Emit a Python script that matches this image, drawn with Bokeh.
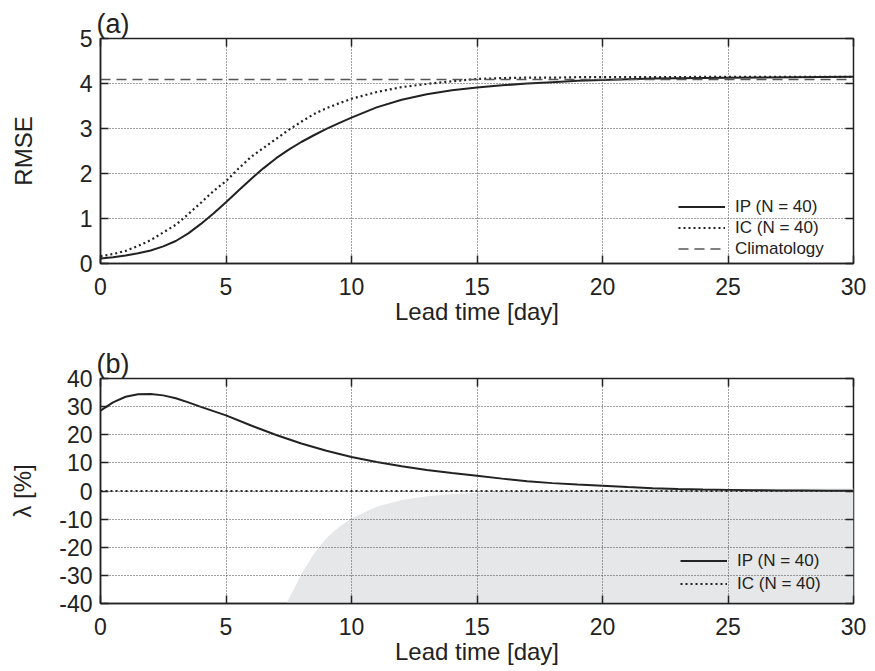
from bokeh.plotting import figure
from bokeh.layouts import column
from bokeh.models import LinearAxis, Range1d, Legend, LegendItem, FixedTicker
from bokeh.embed import file_html
from bokeh.resources import INLINE

# ---------------- data ----------------
rmse_days = [0, 0.5, 1, 1.5, 2, 2.5, 3, 3.5, 4, 4.5, 5, 5.5, 6, 6.5, 7, 7.5, 8, 8.5,
             9, 9.5, 10, 11, 12, 13, 14, 15, 16, 17, 18, 19, 20, 22, 25, 30]
rmse_ip = [0.11, 0.14, 0.18, 0.23, 0.29, 0.38, 0.50, 0.67, 0.88, 1.11, 1.36, 1.62,
           1.88, 2.12, 2.34, 2.53, 2.70, 2.85, 2.99, 3.12, 3.24, 3.47, 3.64, 3.76,
           3.85, 3.91, 3.96, 4.00, 4.03, 4.06, 4.08, 4.11, 4.13, 4.15]
rmse_ic = [0.16, 0.21, 0.28, 0.39, 0.52, 0.69, 0.86, 1.10, 1.35, 1.61, 1.83, 2.11,
           2.37, 2.57, 2.77, 2.97, 3.15, 3.32, 3.45, 3.56, 3.66, 3.81, 3.92, 3.99,
           4.05, 4.10, 4.12, 4.13, 4.13, 4.14, 4.14, 4.14, 4.15, 4.15]
climatology = [4.09] * len(rmse_days)

lam_days = [0, 0.5, 1, 1.5, 2, 2.5, 3, 3.5, 4, 5, 6, 7, 8, 9, 10, 11, 12, 13, 14, 15,
            16, 17, 18, 19, 20, 21, 22, 23, 24, 25, 26, 27, 28, 29, 30]
lam_ip = [28.6, 31.5, 33.5, 34.4, 34.5, 34.0, 33.0, 31.5, 29.9, 26.9, 23.3, 19.9,
          16.9, 14.3, 12.1, 10.3, 8.8, 7.5, 6.4, 5.4, 4.4, 3.5, 2.8, 2.3, 1.9, 1.4,
          1.0, 0.7, 0.5, 0.4, 0.3, 0.2, 0.2, 0.1, 0.1]
lam_ic = [0.0] * len(lam_days)

shade_x = [7.4, 7.7, 8.0, 8.5, 9.0, 9.5, 10, 11, 12, 13, 14, 15, 17.5, 20, 22, 25, 30]
shade_top = [-40, -35, -29.5, -22.4, -16.8, -12.8, -9.8, -5.6, -3.2, -1.9, -1.1,
             -0.6, 0.0, 0.3, 0.6, 0.8, 0.9]
shade_bottom = [-40] * len(shade_x)

x_ticks = [0, 5, 10, 15, 20, 25, 30]
rmse_ticks = [0, 1, 2, 3, 4, 5]
lam_ticks = [-40, -30, -20, -10, 0, 10, 20, 30, 40]
lam_tick_labels = ["-40", "-30", "-20", "-10", "0", "10", "20", "30", "40"]

FONT = "Liberation Sans"
INK = "#222222"


def make_fig(height, yr, yticks, top, bottom, title, ylabel, ylab_standoff):
    p = figure(width=875, height=height, x_range=Range1d(0, 30), y_range=Range1d(*yr),
               output_backend="svg", toolbar_location=None,
               min_border_left=100, min_border_right=22,
               min_border_top=top, min_border_bottom=bottom)
    p.background_fill_color = "white"
    p.border_fill_color = "white"
    p.outline_line_color = INK
    p.outline_line_width = 1.5
    p.outline_line_alpha = 1.0

    p.title.text = title
    p.title.text_font = FONT
    p.title.text_font_size = "27px"
    p.title.text_font_style = "normal"
    p.title.text_color = INK
    p.title.align = "left"
    p.title.offset = -4
    p.title.standoff = 0

    p.xaxis.ticker = FixedTicker(ticks=x_ticks)
    p.yaxis.ticker = FixedTicker(ticks=yticks)
    for ax in (p.xaxis[0], p.yaxis[0]):
        ax.major_tick_in = 8
        ax.major_tick_out = 0
        ax.minor_tick_line_color = None
        ax.axis_line_color = INK
        ax.axis_line_width = 1.5
        ax.major_tick_line_color = INK
        ax.major_tick_line_width = 1.5
        ax.major_label_text_font = FONT
        ax.major_label_text_font_size = "23px"
        ax.major_label_text_color = INK
        ax.axis_label_text_font = FONT
        ax.axis_label_text_font_size = "24px"
        ax.axis_label_text_font_style = "normal"
        ax.axis_label_text_color = INK
    p.xaxis.axis_label = "Lead time [day]"
    p.xaxis.major_label_standoff = 14
    p.xaxis.axis_label_standoff = 0
    p.yaxis.axis_label = ylabel
    p.yaxis.major_label_standoff = 8
    p.yaxis.axis_label_standoff = ylab_standoff

    top_ax = LinearAxis(ticker=FixedTicker(ticks=x_ticks))
    right_ax = LinearAxis(ticker=FixedTicker(ticks=yticks))
    for ax in (top_ax, right_ax):
        ax.major_tick_in = 8
        ax.major_tick_out = 0
        ax.minor_tick_line_color = None
        ax.axis_line_color = None
        ax.major_tick_line_color = INK
        ax.major_tick_line_width = 1.5
        ax.major_label_text_font_size = "1px"
        ax.major_label_text_color = None
        ax.major_label_standoff = 0
    p.add_layout(top_ax, "above")
    p.add_layout(right_ax, "right")

    for g in (p.xgrid[0], p.ygrid[0]):
        g.grid_line_color = "#444444"
        g.grid_line_width = 1
        g.grid_line_dash = "1 2"
        g.level = "glyph"
    p.xgrid.ticker = FixedTicker(ticks=x_ticks)
    p.ygrid.ticker = FixedTicker(ticks=yticks)
    return p


# ---------------- (a) RMSE ----------------
p1 = make_fig(335, (0, 5), rmse_ticks, 38, 72, "(a)", "RMSE", 40)
r_ip = p1.line(rmse_days, rmse_ip, line_color=INK, line_width=2)
r_ic = p1.line(rmse_days, rmse_ic, line_color=INK, line_width=2.2, line_dash="2 3")
r_cl = p1.line(rmse_days, climatology, line_color="#555555", line_width=1.6, line_dash="10 6")
leg1 = Legend(items=[LegendItem(label="IP (N = 40)", renderers=[r_ip]),
                     LegendItem(label="IC (N = 40)", renderers=[r_ic]),
                     LegendItem(label="Climatology", renderers=[r_cl])],
              location=(578, 4))
p1.add_layout(leg1)

# ---------------- (b) lambda ----------------
p2 = make_fig(336, (-40, 40), lam_ticks, 43, 68, "(b)", "λ [%]", 20)
p2.yaxis.major_label_overrides = {t: s for t, s in zip(lam_ticks, lam_tick_labels)}
p2.varea(x=shade_x, y1=shade_bottom, y2=shade_top, fill_color="#e6e7e8", level="underlay")
s_ip = p2.line(lam_days, lam_ip, line_color=INK, line_width=2)
s_ic = p2.line(lam_days, lam_ic, line_color=INK, line_width=2.2, line_dash="2 3")
leg2 = Legend(items=[LegendItem(label="IP (N = 40)", renderers=[s_ip]),
                     LegendItem(label="IC (N = 40)", renderers=[s_ic])],
              location=(580, 8))
p2.add_layout(leg2)

for lg, lh in ((leg1, 21), (leg2, 23)):
    lg.background_fill_alpha = 0
    lg.border_line_color = None
    lg.label_text_font = FONT
    lg.label_text_font_size = "17px"
    lg.label_text_color = INK
    lg.glyph_width = 47
    lg.glyph_height = lh
    lg.label_height = lh
    lg.label_standoff = 10
    lg.spacing = 0
    lg.padding = 0
    lg.margin = 0

layout = column(p1, p2, spacing=0)
open("out.html", "w").write(file_html(layout, INLINE))
